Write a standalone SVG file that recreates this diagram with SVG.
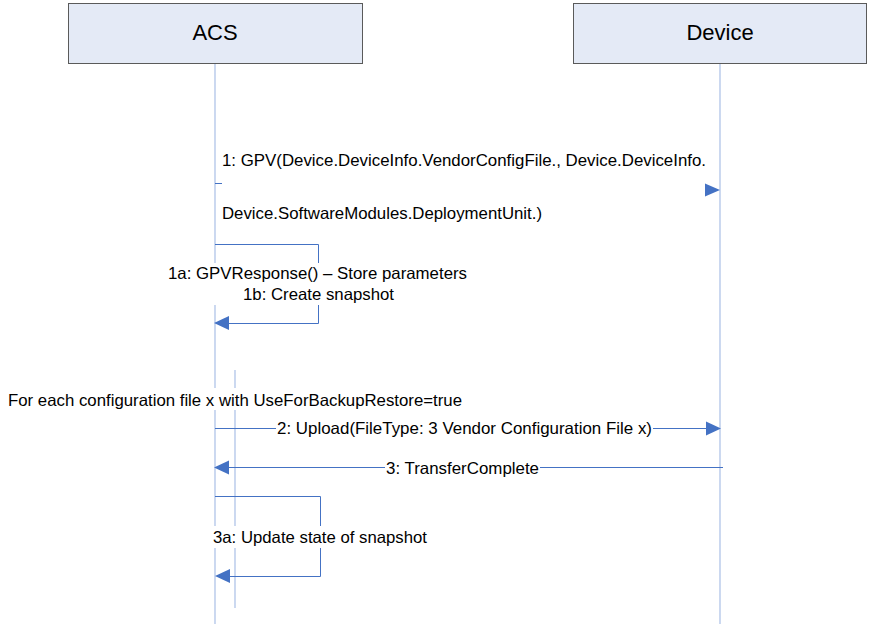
<svg xmlns="http://www.w3.org/2000/svg" width="872" height="624" viewBox="0 0 872 624">
<style>
.box{fill:#e4eaf6;stroke:#5a5a5a;stroke-width:1}
.life{stroke:#a9bfe6;stroke-width:1.2;fill:none}
.msg{stroke:#4472c4;stroke-width:1;fill:none}
.head{fill:#4472c4}
.bg{fill:#ffffff}
text{font-family:"Liberation Sans",Arial,sans-serif;fill:#000}
.title{font-size:22px;text-anchor:middle}
.lbl{font-size:16.5px}
</style>
<rect width="872" height="624" fill="#ffffff"/>
<g id="acs">
<rect class="box" x="68.5" y="3.5" width="294" height="60"/>
<text class="title" x="215" y="40">ACS</text>
</g>
<g id="device">
<rect class="box" x="573.5" y="3.5" width="293" height="60"/>
<text class="title" x="720" y="40">Device</text>
</g>
<g id="lifelines">
<line class="life" x1="215" y1="64" x2="215" y2="624"/>
<line class="life" x1="720" y1="64" x2="720" y2="624"/>
<line class="life" x1="235" y1="370" x2="235" y2="608"/>
</g>
<g id="connectors">
<line class="msg" x1="215" y1="183.5" x2="222" y2="183.5"/>
<polygon class="head" points="705,183.5 720,190 705,196.5"/>
<path class="msg" d="M215 244.5H318.5V323.5H228"/>
<polygon class="head" points="229,316 214,323 229,330"/>
<line class="msg" x1="215" y1="428.5" x2="706" y2="428.5"/>
<polygon class="head" points="706,421.5 721,428.5 706,435.5"/>
<line class="msg" x1="723" y1="467.5" x2="228" y2="467.5"/>
<polygon class="head" points="229,460.5 214,467.5 229,474.5"/>
<path class="msg" d="M215 496.5H320.5V576.5H229"/>
<polygon class="head" points="230,569 215,576 230,583"/>
</g>
<g id="labels">
<text class="lbl" x="222" y="166" textLength="484" lengthAdjust="spacingAndGlyphs">1: GPV(Device.DeviceInfo.VendorConfigFile., Device.DeviceInfo.</text>
<text class="lbl" x="222" y="219" textLength="320" lengthAdjust="spacingAndGlyphs">Device.SoftwareModules.DeploymentUnit.)</text>
<rect class="bg" x="167" y="263" width="301" height="42"/>
<text class="lbl" x="168" y="279" textLength="299" lengthAdjust="spacingAndGlyphs">1a: GPVResponse() – Store parameters</text>
<text class="lbl" x="243" y="300" textLength="151" lengthAdjust="spacingAndGlyphs">1b: Create snapshot</text>
<rect class="bg" x="7" y="388" width="456" height="22"/>
<text class="lbl" x="8" y="406" textLength="454" lengthAdjust="spacingAndGlyphs">For each configuration file x with UseForBackupRestore=true</text>
<rect class="bg" x="276" y="419" width="377" height="20"/>
<text class="lbl" x="277" y="434" textLength="375" lengthAdjust="spacingAndGlyphs">2: Upload(FileType: 3 Vendor Configuration File x)</text>
<rect class="bg" x="385" y="459" width="155" height="20"/>
<text class="lbl" x="386" y="474" textLength="153" lengthAdjust="spacingAndGlyphs">3: TransferComplete</text>
<rect class="bg" x="212" y="526" width="216" height="22"/>
<text class="lbl" x="213" y="543" textLength="214" lengthAdjust="spacingAndGlyphs">3a: Update state of snapshot</text>
</g>
</svg>
